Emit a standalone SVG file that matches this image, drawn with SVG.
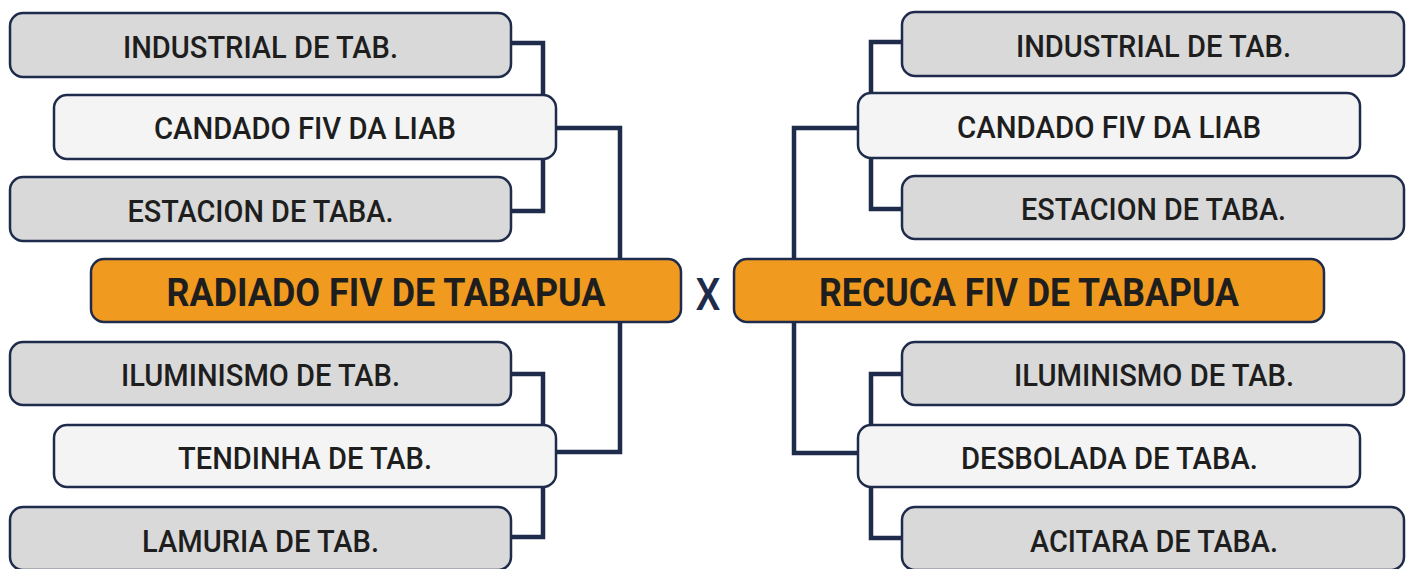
<svg xmlns="http://www.w3.org/2000/svg" width="1410" height="569" viewBox="0 0 1410 569">
<style>
.bg{fill:#ffffff}
.gray{fill:#d9d9d9;stroke:#1f2b4b;stroke-width:2.5}
.white{fill:#f4f4f4;stroke:#1f2b4b;stroke-width:2.5}
.orange{fill:#f09a20;stroke:#1f2b4b;stroke-width:2.5}
.conn{fill:none;stroke:#1f2b4b;stroke-width:4.5;stroke-linejoin:miter;stroke-linecap:butt}
.t{font-family:Roboto,"Liberation Sans",sans-serif;font-size:32px;font-weight:500;fill:#1e1e1e;text-anchor:middle}
.tb{font-family:Roboto,"Liberation Sans",sans-serif;font-size:38px;font-weight:700;fill:#1e1e1e;text-anchor:middle}
.x{font-family:Roboto,"Liberation Sans",sans-serif;font-size:45px;font-weight:500;fill:#1f2b4b;text-anchor:middle}
</style>
<rect class="bg" x="0" y="0" width="1410" height="569"/>
<g id="connectors">
<polyline class="conn" points="511,43 543,43 543,211 511,211"/>
<polyline class="conn" points="556,128 620,128 620,259"/>
<polyline class="conn" points="620,322 620,452 556,452"/>
<polyline class="conn" points="511,374 543,374 543,537 511,537"/>
<polyline class="conn" points="902,42 871,42 871,209 902,209"/>
<polyline class="conn" points="858,128 794,128 794,259"/>
<polyline class="conn" points="794,322 794,453 858,453"/>
<polyline class="conn" points="902,374 871,374 871,538 902,538"/>
</g>
<g id="L1"><rect class="gray" x="10" y="13" width="501" height="64" rx="13"/><text class="t" x="260.5" y="58" textLength="275" lengthAdjust="spacingAndGlyphs">INDUSTRIAL DE TAB.</text></g>
<g id="L2"><rect class="white" x="54" y="95" width="502" height="64" rx="13"/><text class="t" x="305" y="139" textLength="302" lengthAdjust="spacingAndGlyphs">CANDADO FIV DA LIAB</text></g>
<g id="L3"><rect class="gray" x="10" y="177" width="501" height="64" rx="13"/><text class="t" x="260.5" y="222" textLength="266" lengthAdjust="spacingAndGlyphs">ESTACION DE TABA.</text></g>
<g id="LO"><rect class="orange" x="91" y="259" width="590" height="63" rx="13"/><text class="tb" x="386" y="306" textLength="439" lengthAdjust="spacingAndGlyphs">RADIADO FIV DE TABAPUA</text></g>
<g id="L4"><rect class="gray" x="10" y="342" width="501" height="63" rx="13"/><text class="t" x="260.5" y="386" textLength="279" lengthAdjust="spacingAndGlyphs">ILUMINISMO DE TAB.</text></g>
<g id="L5"><rect class="white" x="54" y="425" width="502" height="62" rx="13"/><text class="t" x="305" y="469" textLength="254" lengthAdjust="spacingAndGlyphs">TENDINHA DE TAB.</text></g>
<g id="L6"><rect class="gray" x="10" y="507" width="501" height="63" rx="13"/><text class="t" x="260.5" y="552" textLength="237" lengthAdjust="spacingAndGlyphs">LAMURIA DE TAB.</text></g>
<g id="X"><text class="x" x="708" y="310" textLength="25" lengthAdjust="spacingAndGlyphs">X</text></g>
<g id="R1"><rect class="gray" x="902" y="12" width="502" height="64" rx="13"/><text class="t" x="1153.5" y="57" textLength="275" lengthAdjust="spacingAndGlyphs">INDUSTRIAL DE TAB.</text></g>
<g id="R2"><rect class="white" x="858" y="93" width="502" height="65" rx="13"/><text class="t" x="1109" y="138" textLength="304" lengthAdjust="spacingAndGlyphs">CANDADO FIV DA LIAB</text></g>
<g id="R3"><rect class="gray" x="902" y="176" width="502" height="63" rx="13"/><text class="t" x="1153.5" y="220" textLength="265" lengthAdjust="spacingAndGlyphs">ESTACION DE TABA.</text></g>
<g id="RO"><rect class="orange" x="734" y="259" width="590" height="63" rx="13"/><text class="tb" x="1029" y="306" textLength="420" lengthAdjust="spacingAndGlyphs">RECUCA FIV DE TABAPUA</text></g>
<g id="R4"><rect class="gray" x="902" y="342" width="502" height="63" rx="13"/><text class="t" x="1154" y="386" textLength="280" lengthAdjust="spacingAndGlyphs">ILUMINISMO DE TAB.</text></g>
<g id="R5"><rect class="white" x="858" y="425" width="502" height="62" rx="13"/><text class="t" x="1109.5" y="469" textLength="297" lengthAdjust="spacingAndGlyphs">DESBOLADA DE TABA.</text></g>
<g id="R6"><rect class="gray" x="902" y="507" width="502" height="63" rx="13"/><text class="t" x="1154" y="552" textLength="248" lengthAdjust="spacingAndGlyphs">ACITARA DE TABA.</text></g>
</svg>
